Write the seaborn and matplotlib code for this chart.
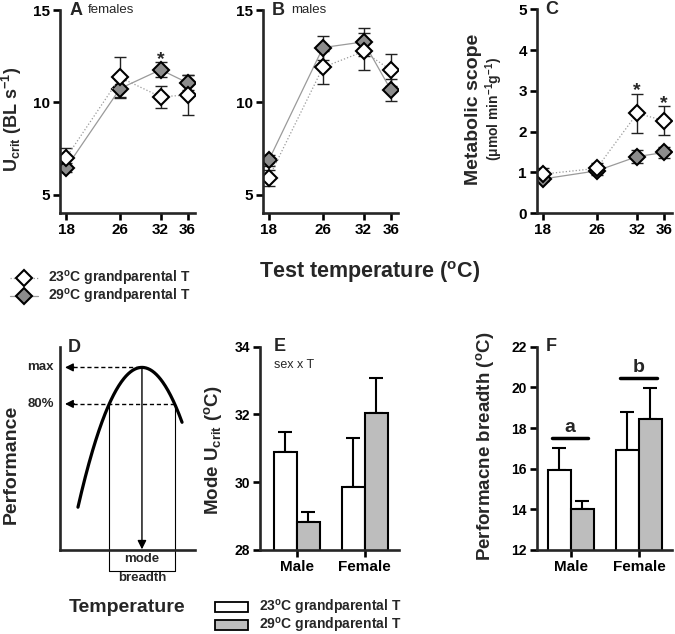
import numpy as np
import pandas as pd
import matplotlib
matplotlib.use('Agg')
import matplotlib.pyplot as plt
import seaborn as sns
from matplotlib.lines import Line2D
from matplotlib.patches import Patch

# ---- data ----
temps = [18, 26, 32, 36]
groups = ['23', '29']

# A: females Ucrit (mean, s.e.)
fem_23 = [7.0, 11.35, 10.3, 10.4]
fem_23_se = [0.55, 1.1, 0.6, 1.1]
fem_29 = [6.45, 10.75, 11.77, 11.06]
fem_29_se = [0.25, 0.45, 0.4, 0.4]

# B: males Ucrit
male_23 = [5.9, 11.9, 12.76, 11.75]
male_23_se = [0.45, 0.9, 1.0, 0.87]
male_29 = [6.85, 12.97, 13.28, 10.68]
male_29_se = [0.3, 0.65, 0.77, 0.58]

# C: metabolic scope
ms_23 = [0.96, 1.10, 2.45, 2.27]
ms_23_se = [0.15, 0.12, 0.48, 0.35]
ms_29 = [0.84, 1.04, 1.39, 1.49]
ms_29_se = [0.06, 0.1, 0.16, 0.14]

# E, F: bar panels
sexes = ['Male', 'Female']
mode_23 = [30.9, 29.87]
mode_23_se = [0.58, 1.43]
mode_29 = [28.84, 32.03]
mode_29_se = [0.28, 1.04]

breadth_23 = [15.95, 16.93]
breadth_23_se = [1.08, 1.87]
breadth_29 = [14.02, 18.45]
breadth_29_se = [0.4, 1.5]
breadth_letters = ['a', 'b']

# D: schematic performance curve
d_peak = 13.5
d_mode = 6.07
d_k = 0.46
d_xrange = (1.33, 9.04)

marker_grey = '#8c8c8c'
line_grey = '#9a9a9a'
bar_grey = '#bdbdbd'

sns.set_theme(style='ticks')
plt.rcParams['font.family'] = ['Liberation Sans', 'DejaVu Sans']
plt.rcParams['font.weight'] = 'bold'
plt.rcParams['axes.labelweight'] = 'bold'
plt.rcParams['mathtext.fontset'] = 'custom'
plt.rcParams['mathtext.rm'] = 'Liberation Sans:bold'
plt.rcParams['mathtext.bf'] = 'Liberation Sans:bold'
plt.rcParams['mathtext.it'] = 'Liberation Sans:bold'
plt.rcParams['mathtext.default'] = 'bf'

fig = plt.figure(figsize=(6.75, 6.34), dpi=100)

ax_a = fig.add_axes([0.0889, 0.664, 0.200, 0.320])
ax_b = fig.add_axes([0.389, 0.664, 0.201, 0.320])
ax_c = fig.add_axes([0.795, 0.6636, 0.200, 0.3218])
ax_d = fig.add_axes([0.0889, 0.1325, 0.200, 0.320])
ax_e = fig.add_axes([0.385, 0.1325, 0.206, 0.3207])
ax_f = fig.add_axes([0.795, 0.1325, 0.200, 0.3207])


def style_axes(ax, labelsize=11):
    sns.despine(ax=ax)
    for s in ['left', 'bottom']:
        ax.spines[s].set_linewidth(1.9)
    ax.tick_params(width=1.9, length=5, labelsize=labelsize, pad=2, colors='black')


def line_panel(ax, v23, s23, v29, s29):
    df = pd.DataFrame({'temp': temps * 2, 'value': v29 + v23, 'se': s29 + s23,
                       'group': ['29'] * 4 + ['23'] * 4})
    for g, face, ls in [('29', marker_grey, '-'), ('23', 'white', ':')]:
        sub = df[df.group == g]
        ax.errorbar(sub.temp, sub.value, yerr=sub.se, fmt='none', ecolor='#222222',
                    elinewidth=1, capsize=4, capthick=1, zorder=1)
        sns.lineplot(data=sub, x='temp', y='value', ax=ax, color=line_grey,
                     linestyle=ls, linewidth=0.9, marker='D', markersize=8,
                     markerfacecolor=face, markeredgecolor='black',
                     markeredgewidth=1.5, errorbar=None)
    ax.set_xticks(temps)
    ax.set_xlim(17.1, 37.1)
    ax.set_xlabel('')
    style_axes(ax)


def star(ax, x, y):
    ax.annotate('*', (x, y), xytext=(0, -1), textcoords='offset points',
                ha='center', va='baseline', fontsize=14)


# A
line_panel(ax_a, fem_23, fem_23_se, fem_29, fem_29_se)
ax_a.set_ylim(4, 15)
ax_a.set_yticks([5, 10, 15])
ax_a.set_ylabel(r'U$_{crit}$ (BL s$^{-1}$)', fontsize=13)
ax_a.yaxis.set_label_coords(-0.265, 0.46)
ax_a.text(0.07, 1.0, 'A', transform=ax_a.transAxes, fontsize=13, va='center')
ax_a.text(0.207, 1.0, 'females', transform=ax_a.transAxes, fontsize=9.5,
          fontweight='normal', va='center')
star(ax_a, 32, max(fem_23[2] + fem_23_se[2], fem_29[2] + fem_29_se[2]))

# B
line_panel(ax_b, male_23, male_23_se, male_29, male_29_se)
ax_b.set_ylim(4, 15)
ax_b.set_yticks([5, 10, 15])
ax_b.set_ylabel('')
ax_b.text(0.066, 1.0, 'B', transform=ax_b.transAxes, fontsize=13, va='center')
ax_b.text(0.21, 1.0, 'males', transform=ax_b.transAxes, fontsize=9.5,
          fontweight='normal', va='center')

# C
line_panel(ax_c, ms_23, ms_23_se, ms_29, ms_29_se)
ax_c.set_ylim(0, 5)
ax_c.set_yticks([0, 1, 2, 3, 4, 5])
ax_c.set_ylabel('')
ax_c.text(-0.468, 0.51, 'Metabolic scope', transform=ax_c.transAxes, fontsize=14,
          rotation=90, ha='center', va='center')
ax_c.text(-0.315, 0.51, r'($\mu$mol min$^{-1}$g$^{-1}$)', transform=ax_c.transAxes,
          fontsize=10, rotation=90, ha='center', va='center')
ax_c.text(0.061, 1.0, 'C', transform=ax_c.transAxes, fontsize=13, va='center')
for i in [2, 3]:
    star(ax_c, temps[i], ms_23[i] + ms_23_se[i])

fig.text(0.548, 0.571, r'Test temperature ($^{o}$C)', fontsize=15.5, ha='center', va='center')

top_handles = [
    Line2D([], [], color=line_grey, ls=':', lw=0.9, marker='D', ms=8, mfc='white',
           mec='black', mew=1.5),
    Line2D([], [], color=line_grey, ls='-', lw=0.9, marker='D', ms=8, mfc=marker_grey,
           mec='black', mew=1.5),
]
fig.legend(top_handles, [r'23$^{o}$C grandparental T', r'29$^{o}$C grandparental T'],
           loc='upper left', bbox_to_anchor=(0.015, 0.575), frameon=False,
           fontsize=10, handlelength=2.0, handletextpad=0.7, labelspacing=-0.12,
           borderpad=0, borderaxespad=0)

# D: schematic
xc = np.linspace(d_xrange[0], d_xrange[1], 200)
yc = d_peak - d_k * (xc - d_mode) ** 2
sns.lineplot(x=xc, y=yc, ax=ax_d, color='black', linewidth=2.3)
ax_d.set_xlim(0, 10)
ax_d.set_ylim(0, 15)
ax_d.set_xticks([])
ax_d.set_yticks([])
style_axes(ax_d)
y80 = 0.8 * d_peak
w80 = np.sqrt((d_peak - y80) / d_k)
xa, xb = d_mode - w80, d_mode + w80
box_y = -1.55
tip = 0.37
ax_d.plot([xa, xa, xb, xb], [y80, box_y, box_y, y80], color='black', lw=0.8, clip_on=False)
ax_d.plot([tip + 0.6, d_mode], [d_peak, d_peak], color='black', lw=1, ls=(0, (3, 2)))
ax_d.plot([tip + 0.6, xb], [y80, y80], color='black', lw=1, ls=(0, (3, 2)))
for yy in [d_peak, y80]:
    ax_d.annotate('', xy=(tip, yy), xytext=(tip + 0.7, yy),
                  arrowprops=dict(arrowstyle='-|>', color='black', lw=1,
                                  mutation_scale=12, shrinkA=0, shrinkB=0))
ax_d.annotate('', xy=(d_mode, 0.05), xytext=(d_mode, d_peak),
              arrowprops=dict(arrowstyle='-|>', color='black', lw=1,
                              mutation_scale=13, shrinkA=0, shrinkB=0))
ax_d.text(d_mode, -0.68, 'mode', ha='center', va='center', fontsize=9.5)
ax_d.text(d_mode, -2.1, 'breadth', ha='center', va='center', fontsize=9.5)
ax_d.text(-0.5, d_peak, 'max', ha='right', va='center', fontsize=9.5)
ax_d.text(-0.45, y80, '80%', ha='right', va='center', fontsize=9.5)
ax_d.text(0.06, 1.0, 'D', transform=ax_d.transAxes, fontsize=13, va='center')
ax_d.set_ylabel('Performance', fontsize=14)
ax_d.yaxis.set_label_coords(-0.296, 0.42)
ax_d.set_xlabel('Temperature', fontsize=14)
ax_d.xaxis.set_label_coords(0.496, -0.24)


def bar_panel(ax, v23, s23, v29, s29):
    df = pd.DataFrame({'sex': sexes * 2, 'value': v23 + v29,
                       'group': ['23'] * 2 + ['29'] * 2})
    sns.barplot(data=df, x='sex', y='value', hue='group', hue_order=groups,
                palette=['white', bar_grey], saturation=1, edgecolor='black',
                linewidth=1.5, width=0.68, errorbar=None, legend=False, ax=ax)
    tops = []
    for cont, se in zip(ax.containers, [s23, s29]):
        xs = [b.get_x() + b.get_width() / 2 for b in cont]
        hs = [b.get_height() for b in cont]
        ax.errorbar(xs, hs, yerr=[np.zeros(len(se)), se], fmt='none', ecolor='black',
                    elinewidth=1.5, capsize=5, capthick=1.5, zorder=0.5)
        tops.append(np.array(hs) + np.array(se))
    ax.set_xlabel('')
    style_axes(ax, labelsize=10)
    for lab in ax.get_xticklabels():
        lab.set_fontsize(11)
    return np.maximum(tops[0], tops[1])


# E
bar_panel(ax_e, mode_23, mode_23_se, mode_29, mode_29_se)
ax_e.set_ylim(28, 34)
ax_e.set_yticks([28, 30, 32, 34])
ax_e.set_xlim(-0.54, 1.5)
ax_e.set_ylabel(r'Mode U$_{crit}$ ($^{o}$C)', fontsize=13.5)
ax_e.yaxis.set_label_coords(-0.26, 0.49)
ax_e.text(0.1, 1.0, 'E', transform=ax_e.transAxes, fontsize=13, va='center')
ax_e.text(0.1, 0.91, 'sex x T', transform=ax_e.transAxes, fontsize=9,
          fontweight='normal', va='center')

# F
f_tops = bar_panel(ax_f, breadth_23, breadth_23_se, breadth_29, breadth_29_se)
ax_f.set_ylim(12, 22)
ax_f.set_yticks(range(12, 23, 2))
ax_f.set_xlim(-0.5, 1.48)
ax_f.set_ylabel(r'Performacne breadth ($^{o}$C)', fontsize=13.5)
ax_f.yaxis.set_label_coords(-0.30, 0.51)
ax_f.text(0.07, 1.0, 'F', transform=ax_f.transAxes, fontsize=13, va='center')
for i, (top, letter) in enumerate(zip(f_tops, breadth_letters)):
    ax_f.plot([i - 0.28, i + 0.26], [top + 0.5, top + 0.5], color='black', lw=2.5)
    ax_f.text(i - 0.01, top + 0.6, letter, ha='center', va='bottom', fontsize=14)

bottom_handles = [Patch(facecolor='white', edgecolor='black', lw=1.3),
                  Patch(facecolor=bar_grey, edgecolor='black', lw=1.3)]
fig.legend(bottom_handles, [r'23$^{o}$C grandparental T', r'29$^{o}$C grandparental T'],
           loc='upper left', bbox_to_anchor=(0.318, 0.056), frameon=False,
           fontsize=10, handlelength=2.4, handleheight=0.7, handletextpad=0.8,
           labelspacing=-0.1, borderpad=0, borderaxespad=0)

fig.savefig('out.png', dpi=100)
